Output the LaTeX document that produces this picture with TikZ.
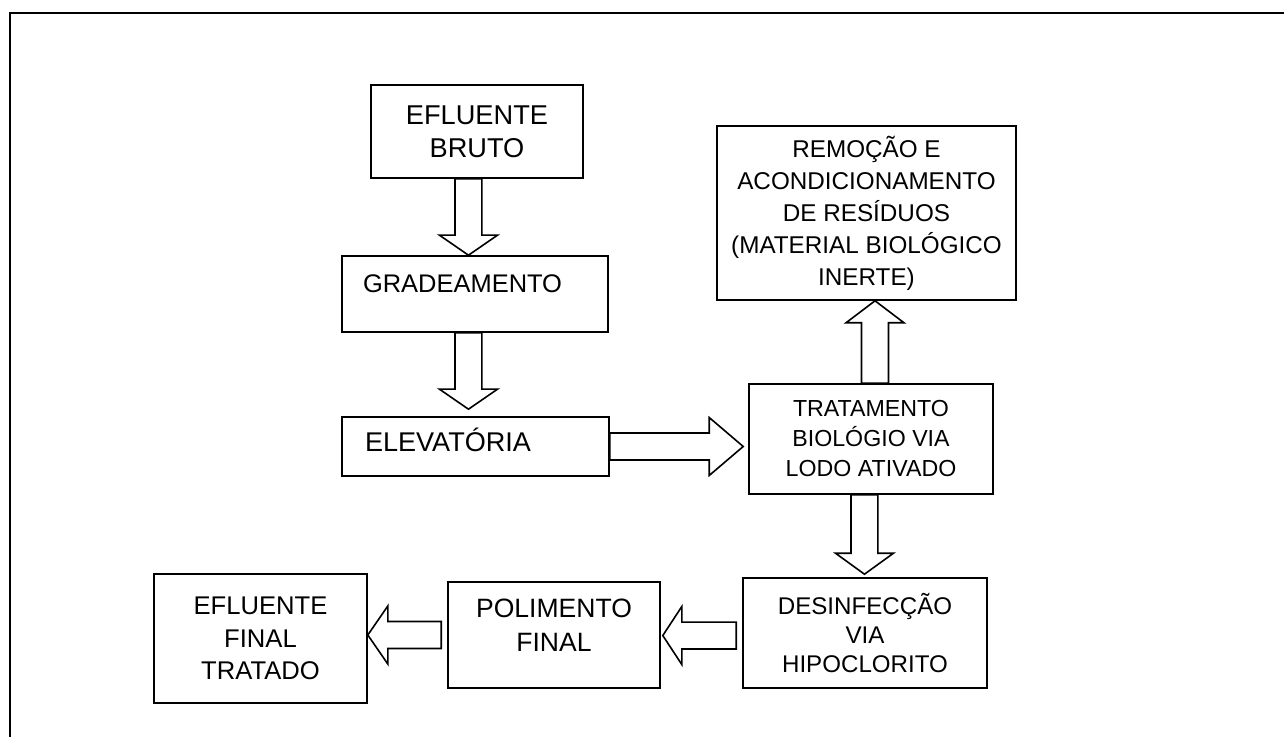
\documentclass[tikz,border=0pt]{standalone}
\usepackage{fontspec}
\setmainfont{Liberation Sans}
\usepackage{xcolor}
\usepackage{tikz}
\usetikzlibrary{calc,positioning}
\tikzset{%
  stageBox/.style={%
    rectangle,
    draw=black,
    line width=1.2pt,
    fill=white,
    inner sep=0pt,
    align=center,
    font=\fontsize{18}{24}\selectfont
  },
  fatArrow/.style={%
    draw=black,
    line width=1.2pt,
    fill=white,
    line join=miter
  },
  frameLine/.style={%
    line width=2.2pt,
    color=black
  }
}
% hollow block arrow from #2 to #3, head length #1
\newcommand{\fatarrow}[3][15pt]{%
  \coordinate (fa-s) at (#2);
  \coordinate (fa-e) at (#3);
  \coordinate (fa-b) at ($(fa-e)!#1!(fa-s)$);
  \draw[fatArrow] ($(fa-s)!10.1pt!90:(fa-e)$) -- ($(fa-b)!10.1pt!90:(fa-e)$)
    -- ($(fa-b)!21.75pt!90:(fa-e)$) -- (fa-e)
    -- ($(fa-b)!21.75pt!-90:(fa-e)$) -- ($(fa-b)!10.1pt!-90:(fa-e)$)
    -- ($(fa-s)!10.1pt!-90:(fa-e)$) -- cycle;
}

\begin{document}
\begin{tikzpicture}[x=0.75pt,y=-0.75pt]
  \useasboundingbox (0,0) rectangle (1284,737);
  \clip (0,0) rectangle (1284,737);
  \draw[frameLine] (10,760) -- (10,13) -- (1300,13);

  % stages
  \node[stageBox, minimum width=159pt, minimum height=69.75pt, font=\fontsize{20.4}{24.75}\selectfont] (bruto) at (477,131.5) {EFLUENTE\\BRUTO};
  \node[stageBox, minimum width=199.5pt, minimum height=57pt, text width=168pt, align=left, font=\fontsize{19.1}{23}\selectfont] (grade) at (475,294) {GRADEAMENTO\\[-7pt]\mbox{}};
  \node[stageBox, minimum width=200.25pt, minimum height=44.25pt, text width=165.75pt, align=left, font=\fontsize{20.3}{24}\selectfont] (elev) at (475.5,446.5) {ELEVATÓRIA\\[-14pt]\mbox{}};
  \node[stageBox, minimum width=183pt, minimum height=82.5pt, font=\fontsize{17.4}{22.5}\selectfont] (trat) at (871,439) {TRATAMENTO\\BIOLÓGIO VIA\\LODO ATIVADO};
  \node[stageBox, minimum width=224.25pt, minimum height=130.5pt, font=\fontsize{18.2}{24}\selectfont] (remo) at (866.5,213) {REMOÇÃO E\\ACONDICIONAMENTO\\DE RESÍDUOS\\(MATERIAL BIOLÓGICO\\INERTE)};
  \node[stageBox, minimum width=183pt, minimum height=82.5pt, font=\fontsize{18.1}{22}\selectfont] (desi) at (865,633) {DESINFECÇÃO\\VIA\\HIPOCLORITO};
  \node[stageBox, minimum width=159pt, minimum height=79.5pt, font=\fontsize{19.9}{25.5}\selectfont] (poli) at (554,635) {POLIMENTO\\FINAL\\[-11.3pt]\mbox{}};
  \node[stageBox, minimum width=159.75pt, minimum height=96.75pt, font=\fontsize{19.2}{24.4}\selectfont] (final) at (260.5,638.5) {EFLUENTE\\FINAL\\TRATADO};

  % flow
  \fatarrow{[xshift=-6.4pt]bruto.south}{[xshift=-6.4pt]bruto.south |- grade.north}
  \fatarrow{[xshift=-4.9pt]grade.south}{[xshift=-4.9pt,yshift=5.25pt]grade.south |- elev.north}
  \fatarrow[25.5pt]{elev.east}{[xshift=-3.75pt]elev.east -| trat.west}
  \fatarrow[16.5pt]{[xshift=3pt]trat.north}{[xshift=3pt]trat.north |- remo.south}
  \fatarrow[15.75pt]{[xshift=-4.9pt]trat.south}{[xshift=-4.9pt,yshift=2.25pt]trat.south |- desi.north}
  \fatarrow[14.25pt]{[xshift=-4.5pt,yshift=-1.9pt]desi.west}{[xshift=1.5pt,yshift=-1.9pt]desi.west -| poli.east}
  \fatarrow{[xshift=-4.5pt]poli.west}{poli.west -| final.east}
\end{tikzpicture}
\end{document}
